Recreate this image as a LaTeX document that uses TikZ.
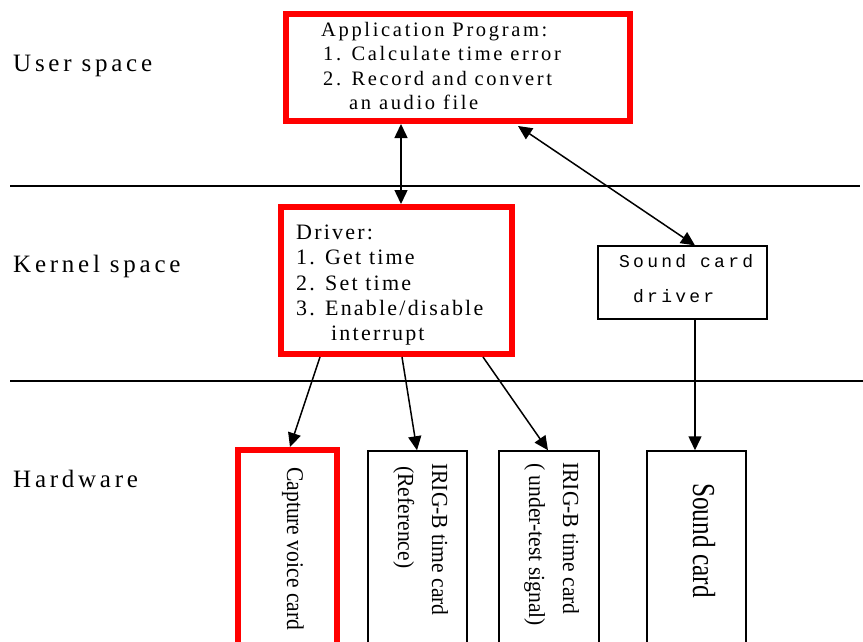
\documentclass[tikz,border=0pt]{standalone}
\usepackage{fontspec}
\setmainfont{Liberation Serif}
\newfontfamily\lblfont[LetterSpace=15]{Liberation Serif}
\newfontfamily\appfont[LetterSpace=13]{Liberation Serif}
\newfontfamily\drvfont[LetterSpace=10]{Liberation Serif}
\newfontfamily\sdfont[LetterSpace=18]{Liberation Mono}
\usetikzlibrary{arrows.meta}
\begin{document}
\begin{tikzpicture}[x=1pt,y=-1pt,
  redbox/.style={draw=red, line width=6pt, fill=white, inner sep=0pt},
  thinbox/.style={draw=black, line width=1.5pt, fill=white, inner sep=0pt},
  sdbox/.style={draw=black, line width=1.2pt, fill=white, inner sep=0pt},
  conn/.style={line width=1.5pt, -{Triangle[length=14pt,width=13pt]}},
  dconn/.style={line width=1.5pt, {Triangle[length=14pt,width=13pt]}-{Triangle[length=14pt,width=13pt]}},
  sep/.style={line width=1.3pt},
  lbl/.style={inner sep=0pt, anchor=base west, font=\lblfont\fontsize{25}{28}\selectfont},
  apptxt/.style={inner sep=0pt, anchor=base west, font=\appfont\fontsize{20.5}{24}\selectfont},
  drvtxt/.style={inner sep=0pt, anchor=base west, font=\drvfont\fontsize{22}{25}\selectfont},
  sdtxt/.style={inner sep=0pt, anchor=base west, font=\sdfont\fontsize{18}{22}\selectfont},
  rot/.style={inner sep=0pt, anchor=base west, rotate=-90}]
\useasboundingbox (0,0) rectangle (863,642);
\clip (0,0) rectangle (863,642);

% separators
\coordinate (s1a) at (10,186);
\coordinate (s1b) at (860,186);
\coordinate (s2a) at (10,381);
\coordinate (s2b) at (863,381);
\draw[sep] (s1a) -- (s1b);
\draw[sep] (s2a) -- (s2b);

% layer labels
\node[lbl] (user) at (13,72) {User space};
\node[lbl] (kern) at (13,272) {Kernel space};
\node[lbl] (hw) at (13,487) {Hardware};

% boxes
\node[redbox, minimum width=344pt, minimum height=107pt] (app) at (458,67.5) {};
\node[redbox, minimum width=231pt, minimum height=147pt] (drv) at (396.5,280.5) {};
\node[sdbox, minimum width=169pt, minimum height=73pt] (sdrv) at (682.5,282.5) {};
\node[redbox, minimum width=99pt, minimum height=250pt] (cap) at (287.5,575) {};
\node[thinbox, minimum width=99pt, minimum height=250pt] (ref) at (417.5,576) {};
\node[thinbox, minimum width=100pt, minimum height=250pt] (und) at (549,576) {};
\node[thinbox, minimum width=99pt, minimum height=250pt] (snd) at (696.5,576) {};

% texts in app box
\node[apptxt] (a1) at (321,37) {Application Program:};
\node[apptxt] (a2) at (323,61) {1. Calculate time error};
\node[apptxt] (a3) at (323,85) {2. Record and convert};
\node[apptxt] (a4) at (349,110) {an audio file};

% texts in driver box
\node[drvtxt] (d1) at (296,239) {Driver:};
\node[drvtxt] (d2) at (296,264) {1. Get time};
\node[drvtxt] (d3) at (296,290) {2. Set time};
\node[drvtxt] (d4) at (296,315) {3. Enable/disable};
\node[drvtxt] (d5) at (331,340) {interrupt};

% sound card driver text
\node[sdtxt] (sd1) at (619,267) {Sound card};
\node[sdtxt] (sd2) at (633,302) {driver};

% rotated hardware texts
\node[rot] (capt) at (287,467) {\scalebox{0.9}[1]{\fontsize{24}{24}\selectfont Capture voice card}};
\node[rot] (ref1) at (432,463) {\scalebox{0.94}[1]{\fontsize{23}{23}\selectfont IRIG-B time card}};
\node[rot] (ref2) at (398,466) {\scalebox{0.94}[1]{\fontsize{23}{23}\selectfont (Reference)}};
\node[rot] (und1) at (563,462) {\scalebox{0.94}[1]{\fontsize{23}{23}\selectfont IRIG-B time card}};
\node[rot] (und2) at (529,463) {\scalebox{0.94}[1]{\fontsize{23}{23}\selectfont ( under-test signal)}};
\node[rot] (sndt) at (693,483) {\scalebox{0.79}[1]{\fontsize{32}{32}\selectfont Sound card}};

% connector x positions
\coordinate (x401) at (401,0);
\coordinate (x518) at (518,0);
\coordinate (x695) at (695,0);
\coordinate (x320) at (320,0);
\coordinate (x290) at (290,0);
\coordinate (x402) at (402,0);
\coordinate (x417) at (417,0);
\coordinate (x483) at (483,0);
\coordinate (x548) at (548,0);

% connectors
\draw[dconn] (app.south -| x401) -- (drv.north -| x401);
\draw[dconn] ([yshift=-2pt]app.south -| x518) -- (sdrv.north -| x695);
\draw[conn] (drv.south -| x320) -- (cap.north -| x290);
\draw[conn] (drv.south -| x402) -- (ref.north -| x417);
\draw[conn] (drv.south -| x483) -- (und.north -| x548);
\draw[conn] (sdrv.south -| x695) -- (snd.north -| x695);
\end{tikzpicture}
\end{document}
